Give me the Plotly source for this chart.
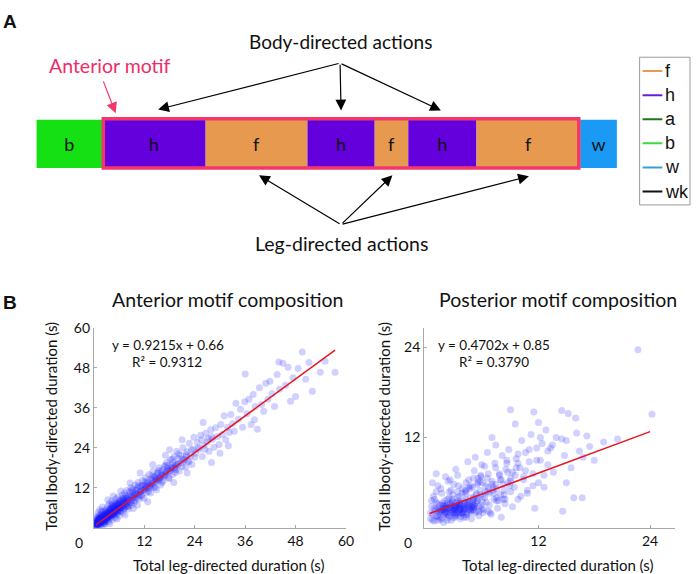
import plotly.graph_objects as go
import numpy as np

# ---------------- Panel A data ----------------
segment_labels = ['b', 'h', 'f', 'h', 'f', 'h', 'f', 'w']
segment_durations = [66, 105, 103, 68, 34, 69, 105, 37]
segment_colors = ['#14e014', '#6400dc', '#e6994f', '#6400dc', '#e6994f', '#6400dc', '#e6994f', '#1a9af5']
legend_labels = ['f', 'h', 'a', 'b', 'w', 'wk']
legend_colors = ['#e8994f', '#6a1edc', '#1a7a1a', '#3cdc3c', '#3a9edc', '#111111']

# ---------------- Panel B data ----------------
ant_x = [0.5, 0.6, 0.8, 0.9, 1.0, 1.1, 1.2, 1.3, 1.4, 1.5, 1.6, 1.7, 1.8, 1.9, 2.0, 2.1, 2.2, 2.3, 2.4, 2.5,
         2.6, 2.7, 2.8, 2.9, 3.0, 0.7, 1.0, 0.6, 1.4, 2.0, 0.9, 1.6, 2.4, 2.8, 1.2, 0.4,
         0.5, 0.8, 1.1, 1.3, 1.5, 1.7, 1.9, 2.2, 2.5, 2.7, 3.0, 0.6, 1.0, 1.8, 2.3, 2.9,
         3.1, 3.2, 3.3, 3.4, 3.5, 3.6, 3.7, 3.8, 3.9, 4.0, 4.1, 4.2, 4.3, 4.4, 4.5, 4.6, 4.7, 4.8, 4.9, 5.0,
         5.1, 5.2, 5.3, 5.4, 5.5, 5.6, 5.7, 5.8, 5.9, 6.0, 3.3, 4.6, 5.5, 3.8, 4.2,
         3.2, 3.5, 3.9, 4.3, 4.7, 5.0, 5.4, 5.8, 3.6, 4.4,
         6.2, 6.3, 6.5, 6.6, 6.8, 6.9, 7.0, 7.2, 7.3, 7.5, 7.6, 7.8, 7.9, 8.0, 8.2, 8.3, 8.5, 8.6, 8.8, 8.9,
         9.0, 9.2, 9.3, 9.5, 9.6, 9.8, 9.9, 6.4, 7.4, 8.6, 9.4, 6.1, 7.1, 8.1,
         10.1, 10.3, 10.5, 10.7, 10.9, 11.1, 11.3, 11.5, 11.7, 11.9, 12.1, 12.3, 12.5, 12.7, 12.9, 13.1, 13.3,
         13.5, 13.7, 13.9, 14.1, 14.3, 14.5, 14.7, 14.9, 15.1, 15.3, 15.5, 15.7, 15.9, 11.0, 12.8, 14.0, 10.4,
         16.2, 16.5, 16.8, 17.0, 17.3, 17.6, 17.9, 18.2, 18.5, 18.8, 19.1, 19.4, 19.7, 20.0, 20.3, 20.6, 20.9,
         21.2, 21.5, 21.8, 22.1, 22.4, 22.7, 23.0, 23.3, 23.6, 17.0, 19.0, 21.0, 22.2, 18.0, 23.8,
         24.2, 24.6, 25.0, 25.4, 25.8, 26.2, 26.6, 27.0, 27.4, 27.8, 28.2, 28.6, 29.0, 29.4, 29.8, 30.2, 30.6,
         31.0, 31.4, 31.8, 32.2, 32.6, 33.0, 33.4, 33.8, 26.0, 28.0, 30.0, 32.0,
         34.4, 34.9, 35.4, 35.9, 36.4, 36.9, 37.4, 37.9, 38.4, 38.9, 39.4, 39.9, 40.4, 40.9, 41.4, 41.9, 42.4,
         43.0, 43.6, 44.2, 36.0, 38.2,
         45.0, 45.6, 46.2, 46.8, 47.4, 48.0, 48.6, 49.6, 50.4, 51.2, 52.0, 53.9, 55.0, 57.4, 44.0,
         0.3, 0.5, 0.7, 0.9, 1.1, 1.3, 1.5, 1.7, 1.9, 2.1, 2.3, 2.5, 2.7, 2.9, 3.1, 3.3, 3.5, 3.7, 3.9, 4.1,
         4.3, 4.5, 4.7, 4.9, 5.1, 5.3, 5.5, 5.7, 5.9, 6.1, 6.3, 6.5, 6.7, 6.9, 7.1, 7.3, 7.5, 7.7, 7.9,
         0.4, 0.8, 1.2, 1.6, 2.0, 2.4, 2.8, 3.2, 3.6, 4.0, 4.4, 4.8, 5.2, 5.6, 6.0, 6.4, 6.8, 7.2, 7.6, 8.0,
         1.0, 1.4, 1.8, 2.2, 2.6, 3.0, 3.4, 3.8, 4.2, 4.6, 5.0, 5.4, 5.8, 6.2, 6.6, 7.0,
         8.4, 8.8, 9.2, 9.6, 10.0, 10.4, 10.8, 11.2, 11.6, 12.0, 12.4, 12.8, 13.2, 13.6, 14.0, 14.4, 14.8,
         15.2, 15.6, 16.0, 16.4, 16.8, 17.2, 17.6, 18.0, 18.4, 18.8, 19.2, 19.6, 20.0,
         8.2, 9.0, 9.8, 10.6, 11.4, 12.2, 13.0, 13.8, 14.6, 15.4, 16.2, 17.0, 17.8, 18.6, 19.4, 20.2, 21.0,
         21.4, 22.0, 22.6, 23.2, 24.0, 24.8, 25.6, 26.4, 27.2, 28.0]
ant_y = [0.8, 1.5, 0.6, 2.2, 1.1, 3.0, 0.5, 1.8, 2.6, 0.9, 4.0, 1.4, 3.2, 2.0, 0.7, 5.0, 2.8, 1.6, 3.8, 2.3,
         1.0, 4.4, 3.0, 1.9, 5.6, 3.4, 4.6, 2.8, 5.4, 6.2, 1.3, 2.0, 1.2, 5.2, 3.6, 1.9,
         1.2, 1.6, 2.0, 2.4, 2.9, 2.6, 3.6, 4.0, 3.3, 2.2, 4.2, 0.9, 2.6, 4.8, 2.7, 3.8,
         2.6, 4.0, 6.5, 3.3, 1.8, 5.0, 7.2, 4.2, 2.9, 5.8, 3.6, 8.0, 4.8, 2.4, 6.4, 5.2, 3.9, 7.5, 4.5, 6.0,
         3.0, 8.6, 5.4, 4.1, 7.0, 5.9, 9.2, 4.8, 6.6, 3.6, 8.4, 9.5, 2.6, 1.2, 6.9,
         3.6, 4.6, 5.2, 5.9, 6.0, 4.9, 6.8, 7.4, 3.2, 4.0,
         7.2, 5.0, 8.4, 6.2, 9.8, 4.6, 7.6, 5.8, 10.4, 8.0, 6.4, 11.2, 7.0, 9.0, 5.6, 8.4, 10.8, 7.4, 12.0, 9.4,
         6.8, 8.8, 11.6, 9.8, 7.6, 12.8, 10.2, 11.0, 3.8, 13.4, 5.8, 6.0, 8.8, 7.8,
         9.0, 11.4, 13.6, 8.6, 10.6, 12.4, 9.8, 14.2, 11.2, 8.8, 12.8, 15.0, 10.6, 13.2, 11.8, 16.0, 12.6,
         10.4, 14.6, 13.0, 17.0, 12.2, 15.4, 13.8, 11.4, 16.4, 14.2, 18.0, 15.0, 12.8, 16.4, 7.8, 19.0, 6.8,
         16.0, 14.0, 18.4, 15.6, 19.6, 17.0, 14.8, 20.4, 17.8, 16.0, 21.4, 18.6, 23.0, 19.0, 17.0, 21.8, 19.6,
         24.0, 20.6, 18.2, 22.8, 20.0, 25.4, 21.6, 19.0, 23.6, 21.8, 13.6, 26.4, 16.4, 23.4, 27.2,
         22.4, 25.6, 23.6, 27.8, 21.4, 24.8, 28.4, 25.8, 23.0, 29.4, 26.6, 24.2, 30.0, 27.4, 25.0, 31.0, 28.0,
         33.6, 26.4, 30.2, 28.6, 34.0, 31.2, 29.0, 37.4, 31.6, 19.6, 22.4, 24.6,
         32.6, 35.6, 30.2, 37.8, 34.2, 38.6, 31.0, 40.0, 36.4, 29.6, 42.0, 37.0, 35.0, 43.4, 38.6, 44.0, 40.2,
         36.4, 46.0, 41.6, 46.2, 32.4,
         49.4, 42.8, 48.2, 38.0, 45.0, 39.4, 47.8, 52.8, 44.6, 49.6, 41.0, 46.7, 50.0, 46.7, 49.8,
         0.6, 1.4, 0.9, 1.7, 2.4, 1.2, 2.2, 3.0, 1.8, 2.6, 3.4, 2.0, 3.2, 4.0, 3.0, 3.8, 4.6, 3.4, 4.4, 5.2,
         3.9, 5.0, 5.8, 4.6, 5.6, 6.4, 5.0, 6.2, 7.0, 5.6, 6.8, 7.8, 6.2, 7.4, 8.4, 6.8, 8.0, 9.0, 7.6,
         2.4, 0.7, 2.8, 1.0, 3.6, 1.6, 4.6, 2.4, 5.4, 3.2, 6.6, 3.8, 7.4, 4.4, 8.2, 5.0, 9.0, 5.6, 9.6, 6.4,
         1.8, 2.6, 2.2, 3.0, 2.8, 3.6, 3.4, 4.2, 4.0, 4.8, 4.6, 5.4, 5.2, 6.0, 6.0, 6.6,
         9.2, 7.6, 10.6, 9.0, 10.2, 12.0, 9.6, 11.0, 12.8, 11.4, 12.0, 14.0, 12.4, 13.2, 15.0, 13.4, 14.4,
         16.2, 14.6, 15.6, 17.4, 15.8, 16.8, 18.6, 16.8, 18.0, 19.6, 17.8, 19.0, 20.8,
         6.4, 11.2, 8.2, 12.6, 9.4, 13.8, 10.8, 15.6, 12.0, 17.2, 13.6, 18.8, 15.0, 20.6, 16.6, 22.2, 18.4,
         20.2, 22.0, 19.8, 23.4, 21.2, 24.0, 26.4, 23.6, 26.8, 27.4]

ant_extra_x = [0.35, 0.55, 0.75, 0.95, 1.15, 1.35, 1.55, 1.75, 1.95, 2.15, 2.35, 2.55, 2.75, 2.95, 3.15,
               3.35, 3.55, 3.75, 3.95, 4.15, 4.35, 4.55, 4.75, 4.95, 5.15, 5.35, 5.55, 5.75, 5.95, 6.15,
               6.5, 7.0, 7.5, 8.0, 8.5, 9.0, 9.5, 10.0, 10.5, 11.0, 11.5, 12.0, 12.5, 13.0, 13.5,
               14.0, 14.5, 15.0, 15.5, 16.0, 16.5, 17.0, 17.5, 18.0, 18.5, 19.0, 19.5, 20.0, 21.0, 22.0,
               0.45, 0.65, 0.85, 1.05, 1.25, 1.45, 1.65, 1.85, 2.05, 2.25, 2.45, 2.65, 2.85, 3.05, 3.25,
               3.45, 3.65, 3.85, 4.05, 4.25, 0.5, 0.9, 1.3, 1.7, 2.1, 2.5, 2.9, 3.3, 3.7, 4.1]
ant_extra_y = [1.1, 0.5, 1.9, 1.2, 1.6, 2.8, 1.9, 2.3, 3.4, 2.2, 2.9, 3.9, 2.6, 3.5, 4.6,
               3.2, 4.1, 5.4, 3.8, 4.6, 6.0, 4.3, 5.3, 6.6, 4.9, 5.7, 7.2, 5.5, 6.3, 7.8,
               6.8, 8.2, 7.2, 8.6, 9.8, 8.2, 9.6, 11.2, 10.0, 10.8, 12.6, 11.6, 12.4, 13.6, 12.0,
               13.8, 15.2, 14.4, 15.0, 16.8, 15.4, 16.4, 17.8, 17.2, 18.6, 18.0, 17.4, 19.2, 20.6, 21.4,
               1.3, 2.0, 1.0, 1.7, 2.2, 1.5, 2.6, 2.0, 2.9, 2.4, 3.1, 2.8, 3.6, 3.0, 3.9,
               3.4, 4.2, 3.8, 4.6, 4.2, 0.9, 1.1, 1.6, 1.9, 2.3, 2.7, 3.0, 3.3, 3.9, 4.3]

post_x = [0.4, 0.5, 0.6, 0.7, 0.8, 0.9, 1.0, 1.1, 1.2, 1.3, 1.4, 1.5, 1.6, 1.7, 1.8, 1.9, 2.0, 0.6, 1.0, 1.5, 0.8, 1.8,
          2.1, 2.2, 2.3, 2.4, 2.5, 2.6, 2.7, 2.8, 2.9, 3.0, 3.1, 3.2, 3.3, 3.4, 3.5, 3.6, 3.7, 3.8, 3.9, 4.0,
          2.3, 2.6, 3.0, 3.2, 3.4, 3.6, 3.8, 2.8, 3.3, 2.2, 4.0, 3.1, 2.5, 2.9, 3.5, 1.2, 1.6, 2.0,
          4.1, 4.2, 4.3, 4.4, 4.5, 4.6, 4.7, 4.8, 4.9, 5.0, 5.1, 5.2, 5.3, 5.4, 5.5, 5.6, 5.7, 5.8, 5.9, 6.0,
          4.4, 5.2, 4.6, 5.0, 5.6, 4.2, 5.8,
          6.1, 6.3, 6.4, 6.6, 6.7, 6.9, 7.0, 7.2, 7.3, 7.5, 7.6, 7.8, 7.9, 8.1, 8.2, 8.4, 8.5, 8.7, 8.8, 9.0,
          6.5, 7.4, 8.0, 8.6, 6.2, 7.0,
          9.2, 9.4, 9.6, 9.8, 10.0, 10.2, 10.4, 10.6, 10.8, 11.0, 11.2, 11.4, 11.6, 11.8, 12.0, 12.2, 12.4,
          12.6, 12.8, 13.0, 9.5, 11.5, 9.0, 12.0, 10.8,
          13.3, 13.6, 13.9, 14.5, 14.8, 15.0, 15.2, 15.5, 15.8, 16.1, 16.4, 16.8, 17.2, 18.0, 19.0, 20.5,
          22.7, 24.2, 14.6, 13.5, 16.0, 17.5, 15.0, 14.5, 16.7,
          0.4, 0.6, 0.8, 1.0, 1.2, 1.4, 1.6, 1.8, 2.0, 2.2, 2.4, 2.6, 2.8, 3.0, 3.2, 3.4, 3.6, 3.8, 4.0, 4.2,
          4.4, 4.6, 4.8, 5.0, 5.2, 5.4, 5.6, 5.8, 6.0,
          0.5, 1.0, 1.5, 2.0, 2.5, 3.0, 3.5, 4.0, 4.5, 5.0, 5.5, 6.0, 6.5, 7.0, 7.5,
          1.2, 1.8, 2.4, 3.0, 3.6, 4.2, 4.8, 5.4, 6.0, 6.6, 7.2, 7.8, 8.4, 9.0, 9.6,
          6.2, 6.5, 6.8, 7.1, 7.4, 7.7, 8.0, 8.3, 8.6, 8.9, 9.2, 9.5, 9.8, 10.1, 10.4,
          2.0, 2.25, 2.5, 2.75, 3.0, 3.25, 3.5, 3.75, 4.0, 4.25, 4.5, 4.75, 5.0,
          10.6, 11.0, 11.4, 11.8, 12.2, 12.6, 13.0]
post_y = [1.2, 2.8, 1.8, 4.2, 0.9, 2.4, 3.4, 1.5, 5.6, 2.0, 3.0, 1.1, 4.6, 2.6, 1.7, 3.6, 6.8, 6.0, 7.2, 5.2, 3.8, 0.7,
          2.2, 3.2, 1.4, 4.8, 2.6, 1.0, 3.8, 2.0, 5.8, 2.9, 1.6, 3.4, 7.0, 2.4, 4.2, 1.2, 3.0, 5.2, 2.2, 3.6,
          6.2, 2.9, 2.4, 2.0, 2.8, 2.5, 1.9, 3.4, 4.8, 1.0, 1.4, 7.8, 2.0, 2.6, 3.0, 2.6, 2.2, 2.8,
          2.6, 4.6, 1.8, 3.2, 6.4, 2.4, 4.0, 1.2, 5.4, 3.0, 7.6, 2.0, 4.4, 3.6, 6.0, 1.6, 5.0, 3.0, 8.4, 4.2,
          8.8, 9.4, 3.4, 2.4, 2.8, 3.8, 6.8,
          2.4, 5.6, 3.4, 7.2, 4.6, 1.8, 6.2, 3.8, 8.6, 5.2, 2.6, 7.0, 4.4, 9.6, 5.8, 3.2, 7.8, 6.0, 10.4, 4.8,
          10.0, 11.0, 1.4, 8.6, 8.2, 12.0,
          7.4, 5.4, 9.2, 3.8, 8.0, 11.6, 6.4, 10.0, 4.6, 8.8, 12.4, 7.2, 2.6, 10.6, 6.0, 9.0, 11.2,
          5.4, 13.0, 8.4, 13.8, 15.4, 15.7, 14.0, 5.0,
          10.6, 7.4, 12.0, 15.6, 9.6, 11.6, 15.2, 8.0, 4.0, 12.6, 10.2, 9.4, 12.2, 9.0, 11.4, 11.8,
          23.7, 15.1, 2.2, 11.0, 14.6, 10.8, 6.0, 11.8, 4.0,
          2.0, 1.0, 2.6, 1.6, 3.2, 2.2, 1.3, 2.9, 2.0, 3.8, 1.6, 2.4, 4.4, 1.9, 2.7, 3.6, 2.1, 4.6, 2.8, 1.7,
          3.4, 5.2, 2.6, 4.0, 3.2, 5.8, 2.2, 4.4, 3.4,
          3.6, 4.8, 2.2, 3.0, 6.4, 1.8, 3.2, 2.6, 5.4, 3.8, 6.6, 2.0, 4.8, 5.8, 3.6,
          1.0, 2.4, 4.0, 3.0, 1.5, 5.0, 2.8, 3.6, 6.0, 2.2, 4.6, 7.2, 3.8, 6.2, 8.0,
          4.0, 6.6, 2.0, 5.0, 8.0, 3.6, 6.4, 4.4, 9.0, 5.6, 2.8, 7.0, 9.8, 4.2, 6.8,
          2.6, 1.8, 3.1, 2.3, 1.5, 2.8, 3.3, 2.0, 2.5, 1.4, 3.0, 2.2, 2.7,
          7.6, 10.4, 5.6, 9.0, 12.0, 7.0, 10.2]

post_extra_x = [1.1, 1.3, 1.7, 1.9, 2.1, 2.3, 2.7, 2.9, 3.1, 3.3, 3.5, 3.7, 3.9, 4.1, 4.3, 4.5, 4.7, 4.9, 5.1, 5.3,
                5.5, 5.7, 5.9, 6.3, 6.7, 7.1, 7.5, 7.9, 8.3, 8.7, 2.6, 3.4, 4.2, 5.0, 5.8, 6.6, 7.4, 8.2, 9.0, 9.8,
                1.5, 1.9, 2.3, 2.7, 3.1, 3.5, 3.9, 4.3, 4.7, 5.1, 1.7, 2.1, 2.5, 2.9, 3.3, 3.7, 4.1, 4.5, 4.9, 5.3]
post_extra_y = [2.3, 1.4, 3.3, 2.5, 1.8, 2.7, 3.5, 1.3, 2.6, 4.0, 1.9, 3.3, 2.4, 4.8, 3.0, 2.0, 5.6, 3.6, 2.8, 4.6,
                3.9, 6.2, 2.5, 4.8, 3.0, 5.4, 4.0, 6.4, 5.0, 7.4, 5.0, 5.6, 6.0, 6.6, 7.0, 5.4, 5.8, 3.8, 6.6, 8.6,
                2.4, 2.0, 2.6, 2.2, 2.8, 2.4, 2.0, 2.7, 2.3, 2.9, 3.0, 2.6, 3.2, 2.4, 2.1, 2.9, 3.3, 2.5, 3.1, 2.2]

ant_fit_x = [0.5, 57.4]
ant_fit_y = [0.9, 53.3]
post_fit_x = [0.3, 24.0]
post_fit_y = [1.9, 12.8]

ant_ticks = [12, 24, 36, 48, 60]
post_ticks = [12, 24]

W, H = 700, 574
FONT = 'Lato'


def px(x):
    return x / W


def py(y):
    return 1 - y / H


fig = go.Figure()

# ---------------- Panel A ----------------
starts = 37 + np.concatenate([[0], np.cumsum(segment_durations)[:-1]])
fig.add_trace(go.Bar(
    x=segment_durations, base=starts, y=[137] * len(segment_labels), orientation='h',
    width=49, marker=dict(color=segment_colors, line=dict(width=0)),
    text=segment_labels, textposition='inside', insidetextanchor='middle', textangle=0,
    textfont=dict(family=FONT, size=18, color='#111'),
    xaxis='x3', yaxis='y3', showlegend=False, hoverinfo='skip'))

shapes = []
shapes.append(dict(type='rect', xref='x3', yref='y3', x0=104.5, x1=585.5, y0=111.5, y1=161.5,
                   line=dict(color='#f2386b', width=3.5), fillcolor='rgba(0,0,0,0)'))
# legend box
shapes.append(dict(type='rect', xref='x3', yref='y3', x0=647, x1=698, y0=49, y1=199,
                   line=dict(color='#9a9a9a', width=1), fillcolor='white'))
annotations = []
for i, (lab, col) in enumerate(zip(legend_labels, legend_colors)):
    yy = 63 + i * 24.5
    shapes.append(dict(type='line', xref='x3', yref='y3', x0=650, x1=670, y0=yy, y1=yy,
                       line=dict(color=col, width=2)))
    annotations.append(dict(xref='x3', yref='y3', x=671, y=yy, text=lab, showarrow=False,
                            xanchor='left', yanchor='middle',
                            font=dict(family='Liberation Sans', size=18, color='#111')))

arrow_kw = dict(xref='x3', yref='y3', axref='x3', ayref='y3', text='', showarrow=True,
                arrowhead=2, arrowsize=1.8, arrowwidth=1.2, arrowcolor='black')
for hx, hy in [(160, 102), (345, 103), (446, 103)]:
    annotations.append(dict(x=hx, y=hy, ax=344, ay=55, **arrow_kw))
for hx, hy in [(262, 169), (397, 169), (535, 170)]:
    annotations.append(dict(x=hx, y=hy, ax=345, ay=219, **arrow_kw))
annotations.append(dict(x=117, y=106, ax=104, ay=72, xref='x3', yref='y3', axref='x3', ayref='y3',
                        text='', showarrow=True, arrowhead=2, arrowsize=1.8, arrowwidth=1.2,
                        arrowcolor='#f2386b'))

annotations.append(dict(xref='x3', yref='y3', x=344, y=33, text='Body-directed actions', showarrow=False,
                        font=dict(family=FONT, size=19, color='#111')))
annotations.append(dict(xref='x3', yref='y3', x=345, y=238, text='Leg-directed actions', showarrow=False,
                        font=dict(family=FONT, size=19.5, color='#111')))
annotations.append(dict(xref='x3', yref='y3', x=111, y=57, text='Anterior motif', showarrow=False,
                        font=dict(family=FONT, size=19.5, color='#ee2c68')))
annotations.append(dict(xref='paper', yref='paper', x=px(10), y=py(13), text='<b>A</b>', showarrow=False,
                        xanchor='center', yanchor='middle',
                        font=dict(family='Liberation Sans', size=19, color='#111')))
annotations.append(dict(xref='paper', yref='paper', x=px(10), y=py(298), text='<b>B</b>', showarrow=False,
                        xanchor='center', yanchor='middle',
                        font=dict(family='Liberation Sans', size=19, color='#111')))

# ---------------- Panel B ----------------
mk = dict(color='rgb(25,25,255)', opacity=0.2, size=7, line=dict(width=0))
fig.add_trace(go.Scatter(x=ant_x + ant_extra_x, y=ant_y + ant_extra_y, mode='markers', marker=mk,
                         xaxis='x', yaxis='y', showlegend=False, hoverinfo='skip'))
fig.add_trace(go.Scatter(x=ant_fit_x, y=ant_fit_y, mode='lines', line=dict(color='#e8141e', width=1.5),
                         xaxis='x', yaxis='y', showlegend=False, hoverinfo='skip'))
fig.add_trace(go.Scatter(x=post_x + post_extra_x, y=post_y + post_extra_y, mode='markers', marker=mk,
                         xaxis='x2', yaxis='y2', showlegend=False, hoverinfo='skip'))
fig.add_trace(go.Scatter(x=post_fit_x, y=post_fit_y, mode='lines', line=dict(color='#e8141e', width=1.5),
                         xaxis='x2', yaxis='y2', showlegend=False, hoverinfo='skip'))

for x, y, t, sz in [(230, 295, 'Anterior motif composition', 19.5), (564, 295, 'Posterior motif composition', 19.5),
                    (170, 341, 'y = 0.9215x + 0.66', 13.5), (169, 359, 'R² = 0.9312', 13.5),
                    (500, 341, 'y = 0.4702x + 0.85', 13.5), (500, 359, 'R² = 0.3790', 13.5),
                    (232, 565, 'Total leg-directed duration (s)', 15),
                    (564, 565, 'Total leg-directed duration (s)', 15),
                    (80, 542, '0', 14), (413, 542, '0', 14)]:
    annotations.append(dict(xref='paper', yref='paper', x=px(x), y=py(y), text=t, showarrow=False,
                            xanchor='center', yanchor='middle',
                            font=dict(family=FONT, size=sz, color='#111')))
for x in [52, 389]:
    annotations.append(dict(xref='paper', yref='paper', x=px(x), y=py(424),
                            text='Total lbody-directed duration (s)', showarrow=False, textangle=-90,
                            xanchor='center', yanchor='middle', font=dict(family=FONT, size=15, color='#111')))

ax_common = dict(showgrid=False, zeroline=False, showline=True, linecolor='#a8a8a8', linewidth=1,
                 ticks='inside', ticklen=3, tickcolor='#a8a8a8',
                 tickfont=dict(family=FONT, size=14, color='#111'))

fig.update_layout(
    width=W, height=H, margin=dict(l=0, r=0, t=0, b=0),
    paper_bgcolor='white', plot_bgcolor='rgba(0,0,0,0)', barmode='overlay',
    xaxis=dict(domain=[px(95), px(350)], range=[0, 60], tickvals=ant_ticks, anchor='y', **ax_common),
    yaxis=dict(domain=[py(527), py(324)], range=[0, 60], tickvals=ant_ticks, anchor='x', **ax_common),
    xaxis2=dict(domain=[px(429), px(683)], range=[-0.3, 26.7], tickvals=post_ticks, anchor='y2', **ax_common),
    yaxis2=dict(domain=[py(527), py(324)], range=[0, 26.6], tickvals=post_ticks, anchor='x2', **ax_common),
    xaxis3=dict(domain=[0, 1], range=[0, W], visible=False, fixedrange=True),
    yaxis3=dict(domain=[py(280), 1], range=[280, 0], visible=False, fixedrange=True),
    shapes=shapes, annotations=annotations,
)

fig.write_html('out.html', config={'displayModeBar': False},
               post_script="document.body.style.margin='0';document.body.style.padding='0';"
                           "document.body.style.overflow='hidden';")
